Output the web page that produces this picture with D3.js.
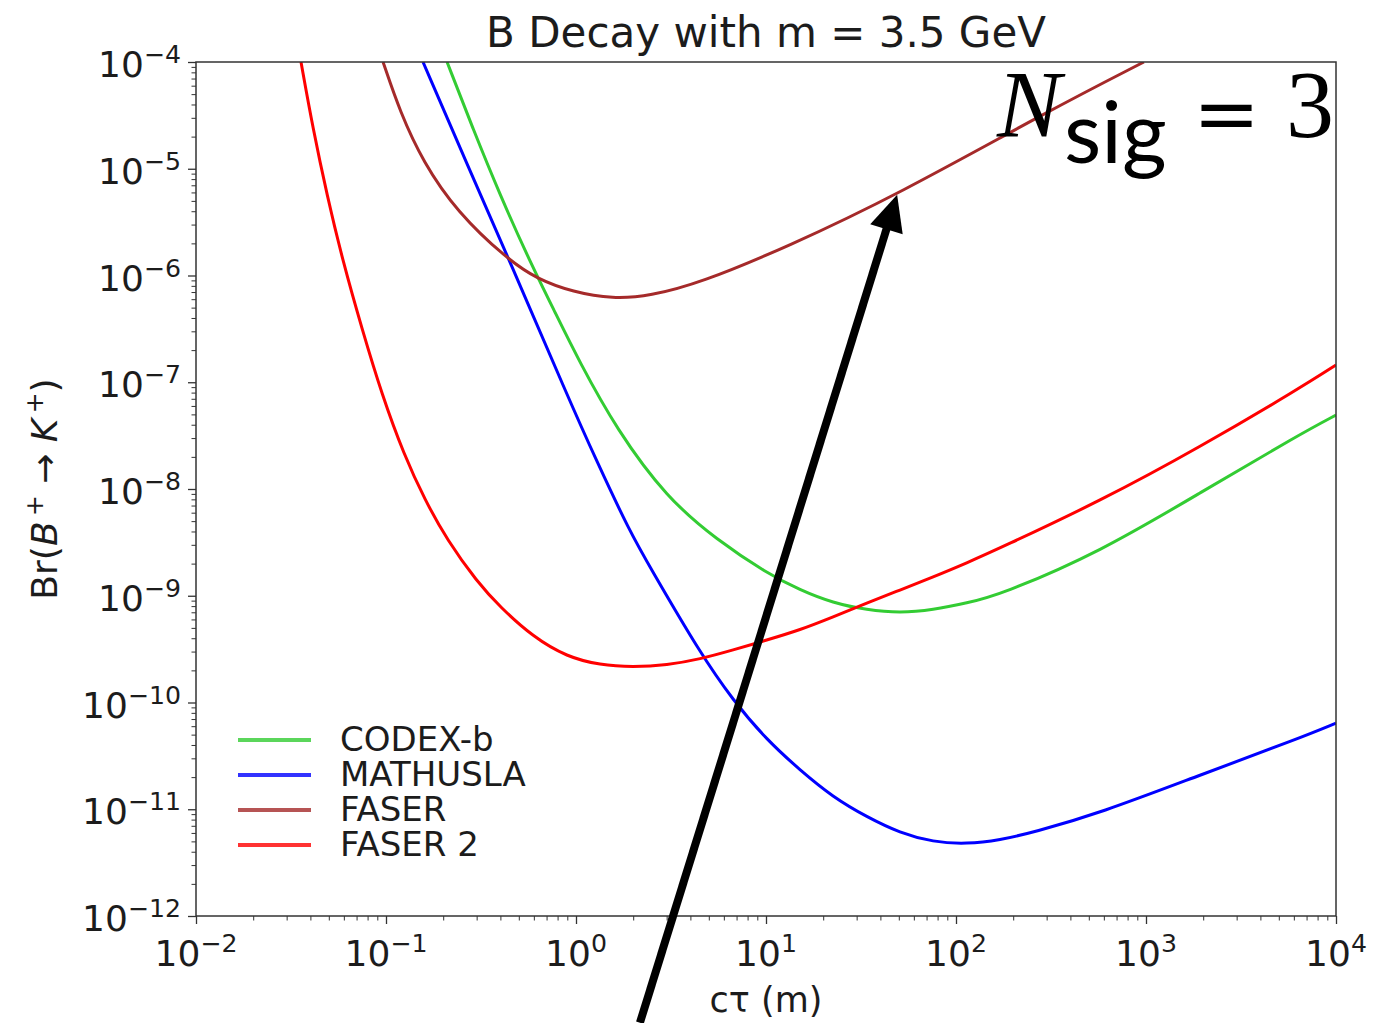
<!DOCTYPE html>
<html>
<head>
<meta charset="utf-8">
<script src="https://cdn.jsdelivr.net/npm/d3@7"></script>
<style>
  body { margin: 0; background: #fff; }
  svg text { font-family: "DejaVu Sans", sans-serif; fill: #1c1c1c; }
</style>
</head>
<body>
<div id="chart"></div>
<script>
const width = 1386;
const height = 1023;
const margin = { top: 62, right: 50, bottom: 107, left: 196 };

// curves: c*tau in metres, branching ratio
const codexCtau = [0.2096, 0.2871, 0.3981, 0.5733, 0.7745, 1.037, 1.643, 3.01, 5.52, 10.1, 15.1, 22.5, 34.0, 50.7, 75.7, 114, 170.6, 573, 1923, 6470, 10000];
const codexBr = [1e-4, 2.36e-5, 5.68e-6, 1.34e-6, 4.55e-7, 1.58e-7, 3.57e-8, 8.24e-9, 3.33e-9, 1.63e-9, 1.13e-9, 8.55e-10, 7.36e-10, 6.89e-10, 7.36e-10, 8.55e-10, 1.02e-9, 2.57e-9, 9.18e-9, 3.27e-8, 4.93e-8];

const mathuslaCtau = [0.1566, 0.2637, 0.45, 0.8974, 1.29, 1.924, 2.449, 4.50, 6.70, 10.1, 15.1, 22.5, 34.0, 50.7, 75.7, 114, 170.6, 254, 573, 1923, 6470, 10000];
const mathuslaBr = [1e-4, 1.16e-5, 1.34e-6, 7.60e-8, 1.79e-8, 3.96e-9, 1.86e-9, 2.91e-10, 1.05e-10, 4.45e-11, 2.33e-11, 1.30e-11, 8.46e-12, 6.00e-12, 4.93e-12, 4.72e-12, 5.15e-12, 6.07e-12, 9.2e-12, 2.09e-11, 4.65e-11, 6.4e-11];

const faserCtau = [0.0965, 0.1186, 0.1566, 0.2364, 0.4335, 0.6237, 0.9645, 1.566, 2.449, 4.50, 12.9, 48.9, 313, 975];
const faserBr = [1e-4, 3.40e-5, 1.16e-5, 3.94e-6, 1.43e-6, 9.27e-7, 7.00e-7, 6.02e-7, 6.43e-7, 8.51e-7, 1.85e-6, 5.68e-6, 3.55e-5, 1e-4];

const faser2Ctau = [0.0357, 0.0413, 0.0489, 0.0594, 0.0748, 0.0953, 0.1245, 0.1603, 0.2096, 0.3013, 0.3981, 0.5943, 0.8974, 1.337, 1.995, 3.01, 4.50, 6.70, 10.1, 15.1, 22.5, 34.0, 50.7, 75.7, 114, 170.6, 573, 1923, 6470, 10000];
const faser2Br = [1e-4, 2.36e-5, 5.68e-6, 1.34e-6, 3.15e-7, 7.60e-8, 2.08e-8, 7.89e-9, 3.33e-9, 1.35e-9, 7.85e-10, 4.11e-10, 2.67e-10, 2.24e-10, 2.15e-10, 2.24e-10, 2.55e-10, 3.10e-10, 3.85e-10, 4.78e-10, 6.32e-10, 8.55e-10, 1.13e-9, 1.50e-9, 2.03e-9, 2.80e-9, 7.7e-9, 2.47e-8, 8.83e-8, 1.45e-7];

const seriesNames = ["CODEX-b", "MATHUSLA", "FASER", "FASER 2"];
const seriesColors = ["#33cc33", "#0000ff", "#a52a2a", "#ff0000"];

const xTickExps = [-2, -1, 0, 1, 2, 3, 4];
const yTickExps = [-12, -11, -10, -9, -8, -7, -6, -5, -4];

// arrow of the annotation, in data units (tail lies below the axes)
const arrowFrom = [2.17, 1e-13];
const arrowTo = [49, 5.7e-6];

const series = [
  { name: seriesNames[0], color: seriesColors[0], points: d3.zip(codexCtau, codexBr) },
  { name: seriesNames[1], color: seriesColors[1], points: d3.zip(mathuslaCtau, mathuslaBr) },
  { name: seriesNames[2], color: seriesColors[2], points: d3.zip(faserCtau, faserBr) },
  { name: seriesNames[3], color: seriesColors[3], points: d3.zip(faser2Ctau, faser2Br) }
];

const svg = d3.select("#chart").append("svg")
  .attr("width", width)
  .attr("height", height);

const x = d3.scaleLog()
  .domain([1e-2, 1e4])
  .range([margin.left, width - margin.right]);
const y = d3.scaleLog()
  .domain([1e-12, 1e-4])
  .range([height - margin.bottom, margin.top]);

const plotW = width - margin.left - margin.right;
const plotH = height - margin.top - margin.bottom;

svg.append("clipPath").attr("id", "plotclip")
  .append("rect")
  .attr("x", margin.left).attr("y", margin.top)
  .attr("width", plotW).attr("height", plotH);

// minor ticks: 2..9 of each decade
const minorValues = (exps) => {
  const out = [];
  for (let i = 0; i < exps.length - 1; i++)
    for (let k = 2; k <= 9; k++) out.push(k * Math.pow(10, exps[i]));
  return out;
};

const xMajor = xTickExps.map(e => Math.pow(10, e));
const yMajor = yTickExps.map(e => Math.pow(10, e));

const styleAxis = (g, w) => {
  g.select(".domain").remove();
  g.selectAll(".tick line").attr("stroke", "#333").attr("stroke-width", w);
  g.selectAll(".tick text").remove();
};

svg.append("g")
  .attr("transform", `translate(0,${height - margin.bottom})`)
  .call(d3.axisBottom(x).tickValues(xMajor).tickSize(8).tickFormat(""))
  .call(g => styleAxis(g, 1.3));
svg.append("g")
  .attr("transform", `translate(0,${height - margin.bottom})`)
  .call(d3.axisBottom(x).tickValues(minorValues(xTickExps)).tickSize(4.5).tickFormat(""))
  .call(g => styleAxis(g, 1));
svg.append("g")
  .attr("transform", `translate(${margin.left},0)`)
  .call(d3.axisLeft(y).tickValues(yMajor).tickSize(8).tickFormat(""))
  .call(g => styleAxis(g, 1.3));
svg.append("g")
  .attr("transform", `translate(${margin.left},0)`)
  .call(d3.axisLeft(y).tickValues(minorValues(yTickExps)).tickSize(4.5).tickFormat(""))
  .call(g => styleAxis(g, 1));

// 10^n labels
const powLabel = (t, e) => {
  t.append("tspan").text("10");
  t.append("tspan")
    .attr("dy", "-0.55em")
    .attr("font-size", "0.7em")
    .text(e < 0 ? "\u2212" + (-e) : String(e));
};

xTickExps.forEach(e => {
  const t = svg.append("text")
    .attr("x", x(Math.pow(10, e)))
    .attr("y", height - margin.bottom + 50)
    .attr("text-anchor", "middle")
    .attr("font-size", 36);
  powLabel(t, e);
});

yTickExps.forEach(e => {
  const t = svg.append("text")
    .attr("x", margin.left - 15)
    .attr("y", y(Math.pow(10, e)) + 15)
    .attr("text-anchor", "end")
    .attr("font-size", 36);
  powLabel(t, e);
});

// curves
const line = d3.line()
  .x(d => x(d[0]))
  .y(d => y(d[1]))
  .curve(d3.curveBasis);

svg.append("g")
  .attr("clip-path", "url(#plotclip)")
  .selectAll("path")
  .data(series)
  .join("path")
  .attr("d", d => line(d.points))
  .attr("fill", "none")
  .attr("stroke", d => d.color)
  .attr("stroke-width", 3);

// frame
svg.append("rect")
  .attr("x", margin.left).attr("y", margin.top)
  .attr("width", plotW).attr("height", plotH)
  .attr("fill", "none")
  .attr("stroke", "#333")
  .attr("stroke-width", 1.5);

// title and axis labels
svg.append("text")
  .attr("x", margin.left + plotW / 2)
  .attr("y", 47)
  .attr("text-anchor", "middle")
  .attr("font-size", 42)
  .text("B Decay with m = 3.5 GeV");

svg.append("text")
  .attr("x", margin.left + plotW / 2)
  .attr("y", 1012)
  .attr("text-anchor", "middle")
  .attr("font-size", 35)
  .text("c\u03c4 (m)");

const yl = svg.append("text")
  .attr("transform", `translate(57,${margin.top + plotH / 2}) rotate(-90)`)
  .attr("text-anchor", "middle")
  .attr("font-size", 36);
yl.append("tspan").text("Br(");
yl.append("tspan").attr("font-style", "italic").text("B");
yl.append("tspan").attr("dy", "-0.55em").attr("font-size", "0.7em").text("\u2009+");
yl.append("tspan").attr("dy", "0.385em").text(" \u2192 ");
yl.append("tspan").attr("font-style", "italic").text("K");
yl.append("tspan").attr("dy", "-0.55em").attr("font-size", "0.7em").text("\u2009+");
yl.append("tspan").attr("dy", "0.385em").text(")");

// legend
const legend = svg.append("g").attr("transform", "translate(238,740)");
const rows = legend.selectAll("g")
  .data(series)
  .join("g")
  .attr("transform", (d, i) => `translate(0,${i * 35})`);
rows.append("line")
  .attr("x1", 0).attr("x2", 73)
  .attr("stroke", d => d.color)
  .attr("stroke-width", 4)
  .attr("opacity", 0.8);
rows.append("text")
  .attr("x", 102)
  .attr("y", 11)
  .attr("font-size", 34)
  .text(d => d.name);

// annotation arrow
const p0 = [x(arrowFrom[0]), y(arrowFrom[1])];
const p1 = [x(arrowTo[0]), y(arrowTo[1])];
const len = Math.hypot(p1[0] - p0[0], p1[1] - p0[1]);
const u = [(p1[0] - p0[0]) / len, (p1[1] - p0[1]) / len];
const n = [-u[1], u[0]];
const headL = 36, headW = 17;
svg.append("line")
  .attr("x1", p0[0]).attr("y1", p0[1])
  .attr("x2", p1[0] - u[0] * (headL - 4)).attr("y2", p1[1] - u[1] * (headL - 4))
  .attr("stroke", "#000")
  .attr("stroke-width", 8);
svg.append("polygon")
  .attr("points", [
    p1,
    [p1[0] - u[0] * headL + n[0] * headW, p1[1] - u[1] * headL + n[1] * headW],
    [p1[0] - u[0] * headL - n[0] * headW, p1[1] - u[1] * headL - n[1] * headW]
  ].map(p => p.join(",")).join(" "))
  .attr("fill", "#000");

// N_sig = 3
const ann = svg.append("g");
ann.append("text")
  .attr("x", 997).attr("y", 137)
  .style("font-family", "'Liberation Serif', serif")
  .style("font-style", "italic")
  .style("fill", "#000")
  .attr("font-size", 96)
  .text("N");
ann.append("text")
  .attr("x", 1064).attr("y", 163)
  .style("font-family", "Lato, 'Open Sans', sans-serif")
  .style("fill", "#000")
  .attr("font-size", 86)
  .text("sig");
ann.append("text")
  .attr("x", 1193).attr("y", 141)
  .style("font-family", "'DejaVu Serif', serif")
  .style("fill", "#000")
  .attr("font-size", 80)
  .text("=");
ann.append("text")
  .attr("x", 1286).attr("y", 137)
  .style("font-family", "'Liberation Serif', serif")
  .style("fill", "#000")
  .attr("font-size", 96)
  .text("3");
</script>
</body>
</html>
